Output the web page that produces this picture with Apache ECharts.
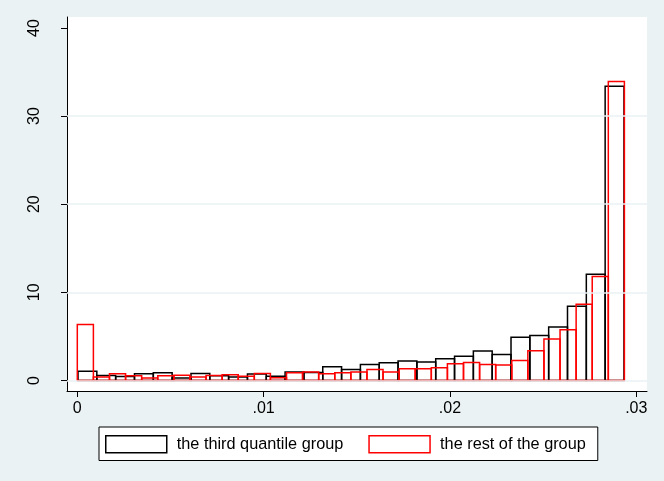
<!DOCTYPE html>
<html>
<head>
<meta charset="utf-8">
<script src="https://cdn.jsdelivr.net/npm/echarts@6/dist/echarts.min.js"></script>
<style>
html,body{margin:0;padding:0;background:#EAF2F3;}
#chart{width:664px;height:481px;}
</style>
</head>
<body>
<div id="chart"></div>
<script>
// Histogram bins (density heights)
const seriesNames = ['the third quantile group', 'the rest of the group'];
const blackStart = 0.0000376;
const blackWidth = 0.0010104;
const blackHeights = [1.05,0.55,0.45,0.76,0.87,0.27,0.8,0.53,0.38,0.72,0.48,0.95,0.9,1.55,1.25,1.8,2.0,2.2,2.08,2.46,2.74,3.33,2.95,4.9,5.1,6.05,8.43,12.05,33.4];
const redStart = 0;
const redWidth = 0.0008636;
const redHeights = [6.36,0.38,0.76,0.53,0.27,0.53,0.6,0.38,0.57,0.64,0.48,0.78,0.3,0.87,0.95,0.76,0.87,0.95,1.25,0.95,1.33,1.33,1.44,1.9,2.04,1.82,1.74,2.27,3.37,4.69,5.75,8.66,11.8,33.94];
const xTicks = [0, 0.01, 0.02, 0.03];
const yTicks = [0, 10, 20, 30, 40];
const gridValues = [0, 10, 20, 30];

function bins(start, width, heights) {
  return heights.map((h, i) => [start + i * width, start + (i + 1) * width, h]);
}
function makeRender(color) {
  return function (params, api) {
    const x0 = api.value(0), x1 = api.value(1), h = api.value(2);
    const p0 = api.coord([x0, 0]);
    const p1 = api.coord([x1, h]);
    return {
      type: 'rect',
      shape: { x: p0[0], y: p1[1], width: p1[0] - p0[0], height: p0[1] - p1[1] },
      style: { fill: 'none', stroke: color, lineWidth: 1.5 }
    };
  };
}
const font = "'Liberation Sans', Arial, sans-serif";
const chart = echarts.init(document.getElementById('chart'));
chart.setOption({
  backgroundColor: '#EAF2F3',
  animation: false,
  grid: { left: 67, right: 17, top: 17, bottom: 90, show: true, backgroundColor: '#ffffff', borderWidth: 0 },
  xAxis: {
    type: 'value', min: -0.000553, max: 0.030575,
    axisLine: { show: true, onZero: false, lineStyle: { color: '#000', width: 1 } },
    axisTick: { show: true, length: 6, customValues: xTicks, lineStyle: { color: '#000', width: 1 } },
    axisLabel: { customValues: xTicks, fontSize: 16, fontFamily: font, color: '#000', margin: 10,
      formatter: v => v === 0 ? '0' : String(+v.toFixed(4)).replace(/^0/, '') },
    splitLine: { show: false }
  },
  yAxis: {
    type: 'value', min: -1.2, max: 41.25,
    axisLine: { show: true, onZero: false, lineStyle: { color: '#000', width: 1 } },
    axisTick: { show: true, length: 6, customValues: yTicks, lineStyle: { color: '#000', width: 1 } },
    axisLabel: { customValues: yTicks, rotate: 90, fontSize: 16, fontFamily: font, color: '#000', margin: 24 },
    splitLine: { show: false }
  },
  legend: {
    left: 99, top: 427,
    orient: 'horizontal',
    itemWidth: 61, itemHeight: 17, itemGap: 25,
    padding: [8, 12, 7, 6],
    backgroundColor: '#ffffff', borderColor: '#000', borderWidth: 1,
    textStyle: { fontSize: 16.3, fontFamily: font, color: '#000', padding: [0, 0, 0, 5] },
    data: [
      { name: seriesNames[0], icon: 'rect', itemStyle: { color: '#fff', borderColor: '#000', borderWidth: 1.5 } },
      { name: seriesNames[1], icon: 'rect', itemStyle: { color: '#fff', borderColor: '#ff0000', borderWidth: 1.5 } }
    ]
  },
  series: [
    {
      type: 'line', name: 'grid', data: [], z: 1, silent: true,
      markLine: {
        silent: true, symbol: 'none', label: { show: false },
        lineStyle: { color: '#EAF2F3', width: 1.5, type: 'solid' },
        data: gridValues.map(v => ({ yAxis: v }))
      }
    },
    {
      type: 'custom', name: seriesNames[0], z: 2,
      itemStyle: { color: '#000' },
      renderItem: makeRender('#000000'),
      encode: { x: [0, 1], y: 2 },
      data: bins(blackStart, blackWidth, blackHeights)
    },
    {
      type: 'custom', name: seriesNames[1], z: 3,
      itemStyle: { color: '#ff0000' },
      renderItem: makeRender('#ff0000'),
      encode: { x: [0, 1], y: 2 },
      data: bins(redStart, redWidth, redHeights)
    }
  ]
});
</script>
</body>
</html>
